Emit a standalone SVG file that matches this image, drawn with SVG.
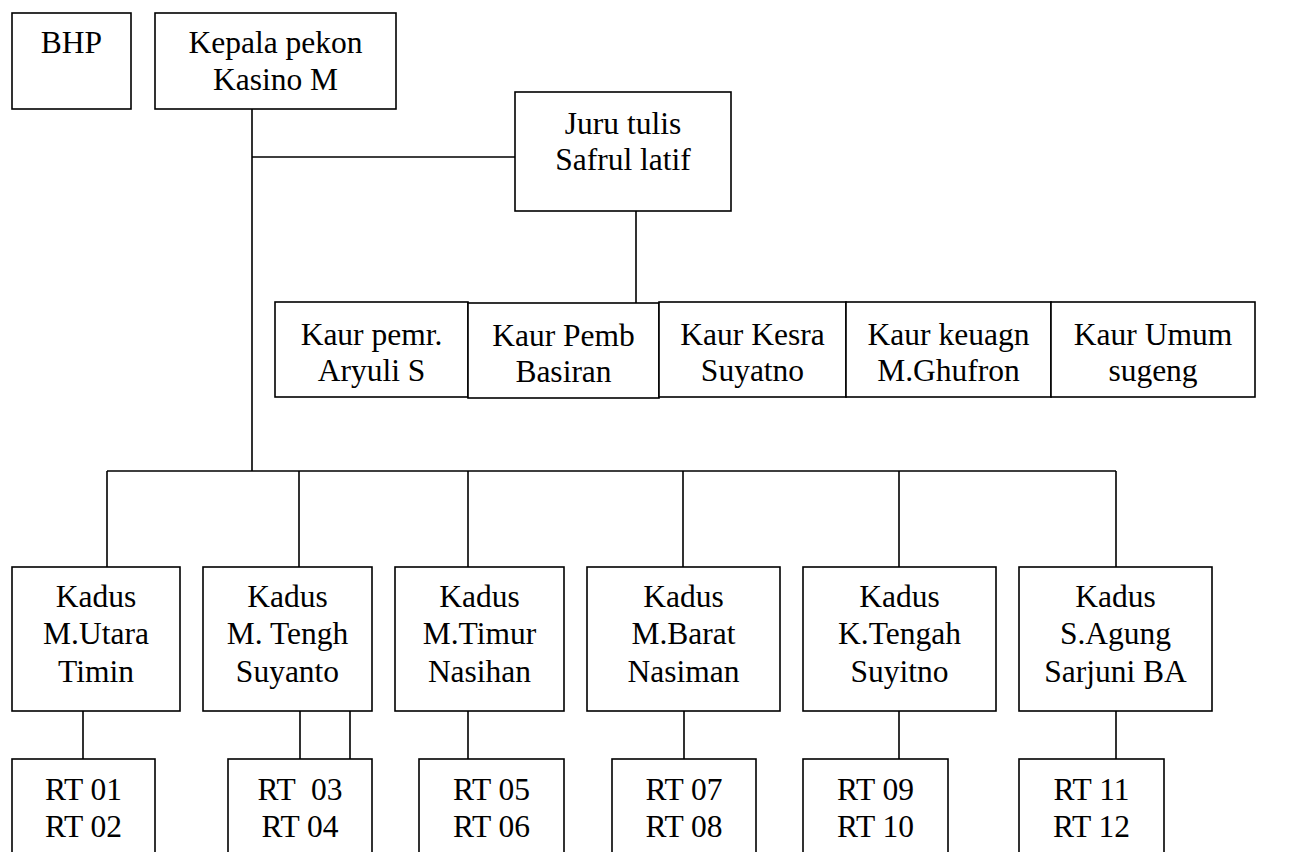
<svg xmlns="http://www.w3.org/2000/svg" width="1291" height="852" viewBox="0 0 1291 852">
<style>
.box{fill:#fff;stroke:#000;stroke-width:1.6}
.ln{fill:none;stroke:#000;stroke-width:1.6}
text{font-family:"Liberation Serif","Times New Roman",serif;font-size:31.5px;fill:#000;text-anchor:middle;white-space:pre}
</style>
<rect width="1291" height="852" fill="#fff"/>
<g id="connectors">
<path class="ln" d="M252,109 V471 M252,157 H515 M636,211 V303 M107,471 H1116 M107,471 V567 M299,471 V567 M468,471 V567 M683,471 V567 M899,471 V567 M1116,471 V567"/>
<path class="ln" d="M83,709 V759 M300,711 V759 M350,688 V759 M468,711 V759 M684,711 V759 M899,711 V759 M1116,711 V759"/>
</g>
<g id="bhp"><rect class="box" x="12" y="13" width="119" height="96"/><text x="71.5" y="53">BHP</text></g>
<g id="kepala"><rect class="box" x="155" y="13" width="241" height="96"/><text x="275.5" y="53">Kepala pekon</text><text x="275.5" y="90">Kasino M</text></g>
<g id="juru"><rect class="box" x="515" y="92" width="216" height="119"/><text x="623" y="134">Juru tulis</text><text x="623" y="170">Safrul latif</text></g>
<g id="kaur-pemr"><rect class="box" x="275" y="302" width="193" height="95"/><text x="371.5" y="345">Kaur pemr.</text><text x="371.5" y="381">Aryuli S</text></g>
<g id="kaur-pemb"><rect class="box" x="468" y="303" width="191" height="95"/><text x="563.5" y="346">Kaur Pemb</text><text x="563.5" y="382">Basiran</text></g>
<g id="kaur-kesra"><rect class="box" x="659" y="302" width="187" height="95"/><text x="752.5" y="345">Kaur Kesra</text><text x="752.5" y="381">Suyatno</text></g>
<g id="kaur-keuagn"><rect class="box" x="846" y="302" width="205" height="95"/><text x="948.5" y="345">Kaur keuagn</text><text x="948.5" y="381">M.Ghufron</text></g>
<g id="kaur-umum"><rect class="box" x="1051" y="302" width="204" height="95"/><text x="1153" y="345">Kaur Umum</text><text x="1153" y="381">sugeng</text></g>
<g id="kadus1"><rect class="box" x="12" y="567" width="168" height="144"/><text x="96" y="607">Kadus</text><text x="96" y="644">M.Utara</text><text x="96" y="682">Timin</text></g>
<g id="kadus2"><rect class="box" x="203" y="567" width="169" height="144"/><text x="287.5" y="607">Kadus</text><text x="287.5" y="644">M. Tengh</text><text x="287.5" y="682">Suyanto</text></g>
<g id="kadus3"><rect class="box" x="395" y="567" width="169" height="144"/><text x="479.5" y="607">Kadus</text><text x="479.5" y="644">M.Timur</text><text x="479.5" y="682">Nasihan</text></g>
<g id="kadus4"><rect class="box" x="587" y="567" width="193" height="144"/><text x="683.5" y="607">Kadus</text><text x="683.5" y="644">M.Barat</text><text x="683.5" y="682">Nasiman</text></g>
<g id="kadus5"><rect class="box" x="803" y="567" width="193" height="144"/><text x="899.5" y="607">Kadus</text><text x="899.5" y="644">K.Tengah</text><text x="899.5" y="682">Suyitno</text></g>
<g id="kadus6"><rect class="box" x="1019" y="567" width="193" height="144"/><text x="1115.5" y="607">Kadus</text><text x="1115.5" y="644">S.Agung</text><text x="1115.5" y="682">Sarjuni BA</text></g>
<g id="rt1"><rect class="box" x="12" y="759" width="143" height="120"/><text x="83.5" y="800">RT 01</text><text x="83.5" y="837">RT 02</text></g>
<g id="rt2"><rect class="box" x="228" y="759" width="144" height="120"/><text x="300" y="800">RT  03</text><text x="300" y="837">RT 04</text></g>
<g id="rt3"><rect class="box" x="419" y="759" width="145" height="120"/><text x="491.5" y="800">RT 05</text><text x="491.5" y="837">RT 06</text></g>
<g id="rt4"><rect class="box" x="612" y="759" width="144" height="120"/><text x="684" y="800">RT 07</text><text x="684" y="837">RT 08</text></g>
<g id="rt5"><rect class="box" x="803" y="759" width="145" height="120"/><text x="875.5" y="800">RT 09</text><text x="875.5" y="837">RT 10</text></g>
<g id="rt6"><rect class="box" x="1019" y="759" width="145" height="120"/><text x="1091.5" y="800">RT 11</text><text x="1091.5" y="837">RT 12</text></g>
</svg>
